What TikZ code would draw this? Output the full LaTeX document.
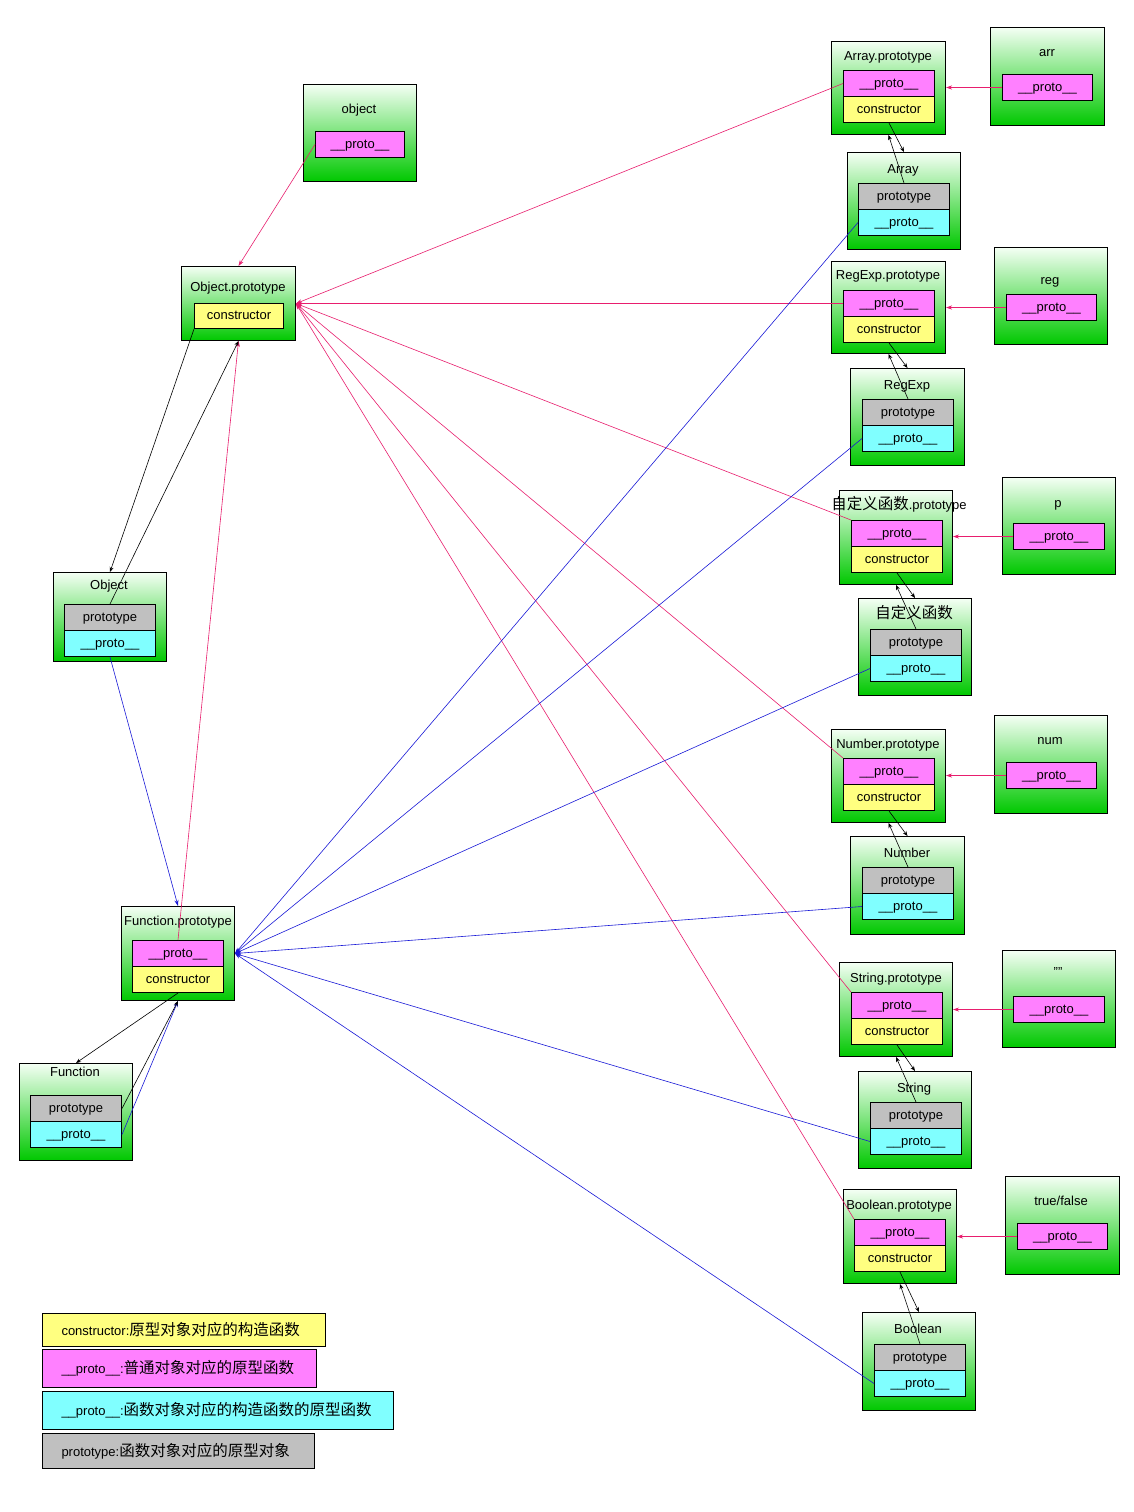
\documentclass[tikz,border=0pt]{standalone}
\usepackage{fontspec}
\setmainfont{Liberation Sans}
\newfontfamily\cjk{Noto Sans CJK SC}
\usetikzlibrary{arrows.meta,positioning}

\definecolor{pinkc}{RGB}{255,128,255}
\definecolor{yelc}{RGB}{255,255,128}
\definecolor{cyanc}{RGB}{128,255,255}
\definecolor{grayc}{RGB}{192,192,192}
\definecolor{grntop}{RGB}{244,255,244}
\definecolor{grn}{RGB}{0,200,0}
\definecolor{redc}{RGB}{232,30,110}
\definecolor{bluec}{RGB}{25,25,215}

\newcommand{\zhtext}[1]{{\cjk\fontsize{15.5}{18}\selectfont #1}}

\begin{document}
\begin{tikzpicture}[x=1pt,y=-1pt]
\tikzstyle{every node}+=[inner sep=0pt, font=\fontsize{13}{15}\selectfont]
\tikzstyle{box}=[draw=black, line width=1pt, anchor=north west, top color=grntop, bottom color=grn, minimum width=113pt]
\tikzstyle{cell}=[draw=black, line width=1pt, anchor=north west, minimum width=91pt, minimum height=26pt, text height=9.5pt, text depth=2.5pt]
\tikzstyle{pcell}=[cell, fill=pinkc]
\tikzstyle{ccell}=[cell, fill=yelc]
\tikzstyle{tcell}=[cell, fill=grayc]
\tikzstyle{qcell}=[cell, fill=cyanc]
\tikzstyle{ttl}=[text height=9.5pt, text depth=2.5pt, yshift=-2pt]
\tikzstyle{leg}=[draw=black, line width=1pt, anchor=north west, inner xsep=19pt, align=left]
\tikzstyle{redline}=[draw=redc, line width=0.6pt, -{Stealth[length=6pt,width=4pt]}]
\tikzstyle{blueline}=[draw=bluec, line width=0.6pt, -{Stealth[length=6pt,width=4pt]}]
\tikzstyle{blackline}=[draw=black, line width=0.6pt, -{Stealth[length=5pt,width=4pt]}]
\fill[white] (0,0) rectangle (1134,1512);
\useasboundingbox (0,0) rectangle (1134,1512);

% left column
\node[box, minimum height=97pt] (obj) at (303,84) {};
\node[ttl] (objT) at (359,108) {object};
\node[pcell, minimum width=89pt] (objP) at (315,131) {\_\_proto\_\_};

\node[box, minimum width=114pt, minimum height=74pt] (op) at (181,266) {};
\node[ttl] (opT) at (238,286) {Object.prototype};
\node[ccell, minimum width=89pt, minimum height=25pt] (opC) at (194,303) {constructor};

\node[box, minimum height=89pt] (o) at (53,572) {};
\node[ttl] (oN) at (109,584) {Object};
\node[tcell] (oT) at (64,604) {prototype};
\node[qcell] (oQ) at (64,630) {\_\_proto\_\_};

\node[box, minimum height=94pt] (fp) at (121,906) {};
\node[ttl] (fpT) at (178,920) {Function.prototype};
\node[pcell] (fpP) at (132,940) {\_\_proto\_\_};
\node[ccell] (fpC) at (132,966) {constructor};

\node[box, minimum height=97pt] (f) at (19,1063) {};
\node[ttl] (fN) at (75,1071) {Function};
\node[tcell] (fT) at (30,1095) {prototype};
\node[qcell] (fQ) at (30,1121) {\_\_proto\_\_};

% Array
\node[box, minimum width=114pt, minimum height=93pt] (ap) at (831,41) {};
\node[ttl] (apT) at (888,55) {Array.prototype};
\node[pcell] (apP) at (843,70) {\_\_proto\_\_};
\node[ccell] (apC) at (843,96) {constructor};
\node[box, minimum width=114pt, minimum height=98pt] (arr) at (990,27) {};
\node[ttl] (arrT) at (1047,51) {arr};
\node[pcell, minimum width=90pt] (arrP) at (1002,74) {\_\_proto\_\_};
\node[box, minimum height=97pt] (a) at (847,152) {};
\node[ttl] (aN) at (903,168) {Array};
\node[tcell] (aT) at (858,183) {prototype};
\node[qcell] (aQ) at (858,209) {\_\_proto\_\_};

% RegExp
\node[box, minimum width=114pt, minimum height=92pt] (rp) at (831,261) {};
\node[ttl] (rpT) at (888,274) {RegExp.prototype};
\node[pcell] (rpP) at (843,290) {\_\_proto\_\_};
\node[ccell] (rpC) at (843,316) {constructor};
\node[box, minimum height=97pt] (reg) at (994,247) {};
\node[ttl] (regT) at (1050,279) {reg};
\node[pcell, minimum width=90pt] (regP) at (1006,294) {\_\_proto\_\_};
\node[box, minimum width=114pt, minimum height=97pt] (r) at (850,368) {};
\node[ttl] (rN) at (907,384) {RegExp};
\node[tcell] (rT) at (862,399) {prototype};
\node[qcell] (rQ) at (862,425) {\_\_proto\_\_};

% custom function
\node[box, minimum height=94pt] (cp) at (839,490) {};
\node[ttl] (cpT) at (899,504) {\zhtext{自定义函数}.prototype};
\node[pcell] (cpP) at (851,520) {\_\_proto\_\_};
\node[ccell] (cpC) at (851,546) {constructor};
\node[box, minimum height=97pt] (p) at (1002,477) {};
\node[ttl] (pT) at (1058,502) {p};
\node[pcell] (pP) at (1013,523) {\_\_proto\_\_};
\node[box, minimum height=97pt] (c) at (858,598) {};
\node[ttl] (cN) at (914,613) {\zhtext{自定义函数}};
\node[tcell] (cT) at (870,629) {prototype};
\node[qcell] (cQ) at (870,655) {\_\_proto\_\_};

% Number
\node[box, minimum width=114pt, minimum height=93pt] (np) at (831,729) {};
\node[ttl] (npT) at (888,743) {Number.prototype};
\node[pcell] (npP) at (843,758) {\_\_proto\_\_};
\node[ccell] (npC) at (843,784) {constructor};
\node[box, minimum height=98pt] (num) at (994,715) {};
\node[ttl] (numT) at (1050,739) {num};
\node[pcell, minimum width=90pt] (numP) at (1006,762) {\_\_proto\_\_};
\node[box, minimum width=114pt, minimum height=98pt] (n) at (850,836) {};
\node[ttl] (nN) at (907,852) {Number};
\node[tcell] (nT) at (862,867) {prototype};
\node[qcell] (nQ) at (862,893) {\_\_proto\_\_};

% String
\node[box, minimum height=94pt] (sp) at (839,962) {};
\node[ttl] (spT) at (896,977) {String.prototype};
\node[pcell] (spP) at (851,992) {\_\_proto\_\_};
\node[ccell] (spC) at (851,1018) {constructor};
\node[box, minimum height=97pt] (str) at (1002,950) {};
\node[ttl] (strT) at (1058,971) {""};
\node[pcell] (strP) at (1013,996) {\_\_proto\_\_};
\node[box, minimum height=97pt] (s) at (858,1071) {};
\node[ttl] (sN) at (914,1087) {String};
\node[tcell] (sT) at (870,1102) {prototype};
\node[qcell] (sQ) at (870,1128) {\_\_proto\_\_};

% Boolean
\node[box, minimum height=94pt] (bp) at (843,1189) {};
\node[ttl] (bpT) at (899,1204) {Boolean.prototype};
\node[pcell] (bpP) at (854,1219) {\_\_proto\_\_};
\node[ccell] (bpC) at (854,1245) {constructor};
\node[box, minimum width=114pt, minimum height=98pt] (bool) at (1005,1176) {};
\node[ttl] (boolT) at (1061,1200) {true/false};
\node[pcell, minimum width=90pt] (boolP) at (1017,1223) {\_\_proto\_\_};
\node[box, minimum height=98pt] (b) at (862,1312) {};
\node[ttl] (bN) at (918,1328) {Boolean};
\node[tcell] (bT) at (874,1344) {prototype};
\node[qcell] (bQ) at (874,1370) {\_\_proto\_\_};

% legend
\node[leg, fill=yelc, text width=245pt, minimum height=33pt] (legY) at (42,1313) {constructor:\zhtext{原型对象对应的构造函数}};
\node[leg, fill=pinkc, text width=236pt, minimum height=38pt] (legP) at (42,1349) {\_\_proto\_\_:\zhtext{普通对象对应的原型函数}};
\node[leg, fill=cyanc, text width=313pt, minimum height=38pt] (legC) at (42,1391) {\_\_proto\_\_:\zhtext{函数对象对应的构造函数的原型函数}};
\node[leg, fill=grayc, text width=234pt, minimum height=35pt] (legG) at (42,1433) {prototype:\zhtext{函数对象对应的原型对象}};

% __proto__ of prototypes -> Object.prototype
\foreach \s in {apP.west, rpP.west, cpP.north west, npP.north west, spP.north west, bpP.north west}
  \draw[redline] (\s) -- (op.east);
\draw[redline] (objP.west) -- (op.north);
\draw[redline] (fpP.north) -- (op.south);

% __proto__ of functions -> Function.prototype
\foreach \s in {aQ, rQ, cQ, nQ, sQ, bQ}
  \draw[blueline] (\s.west) -- (fp.east);
\draw[blueline] (oQ.south) -- (fp.north);
\draw[blueline] (fQ.east) -- (fp.south);

% constructor / prototype pairs
\draw[blackline] (opC.south west) -- (o.north);
\draw[blackline] (oT.north) -- (op.south);
\draw[blackline] (fpC.south) -- (f.north);
\draw[blackline] (fT.east) -- (fp.south);
\foreach \pr/\fn in {ap/a, rp/r, cp/c, np/n, sp/s, bp/b} {
  \draw[blackline] (\pr C.south) -- (\fn.north);
  \draw[blackline] (\fn T.north) -- (\pr.south);
}

% instances -> prototypes
\foreach \i/\pr in {arrP/ap, regP/rp, pP/cp, numP/np, strP/sp, boolP/bp}
  \draw[redline] (\i.west) -- (\i.west -| \pr.east);
\end{tikzpicture}
\end{document}
